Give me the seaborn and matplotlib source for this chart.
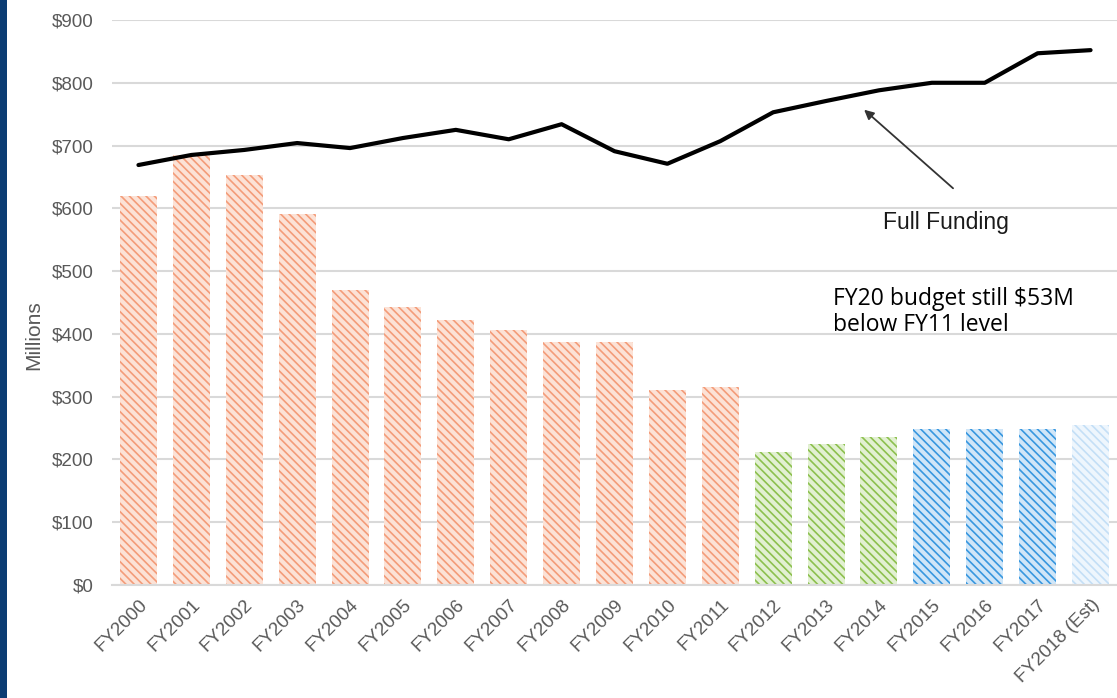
import numpy as np
import pandas as pd
import matplotlib
matplotlib.use("Agg")
import matplotlib.pyplot as plt
import matplotlib.patches as mpatches
import seaborn as sns

years = ["FY2000", "FY2001", "FY2002", "FY2003", "FY2004", "FY2005", "FY2006",
         "FY2007", "FY2008", "FY2009", "FY2010", "FY2011", "FY2012", "FY2013",
         "FY2014", "FY2015", "FY2016", "FY2017", "FY2018 (Est)"]
actual = [620, 685, 653, 591, 470, 443, 422, 406, 387, 387, 311, 315,
          212, 225, 236, 248, 248, 248, 255]
full_funding = [669, 685, 693, 704, 696, 712, 725, 710, 734, 691, 671, 707,
                753, 771, 788, 800, 800, 847, 852]
groups = ["a"] * 12 + ["b"] * 3 + ["c"] * 3 + ["d"]
ytick_vals = [0, 100, 200, 300, 400, 500, 600, 700, 800, 900]
ytick_labels = ["$0", "$100", "$200", "$300", "$400", "$500", "$600", "$700", "$800", "$900"]

hatch_col = {"a": "#F39C79", "b": "#8CC04E", "c": "#3897DF", "d": "#C4DFF6"}
face_col = {"a": "#FCE2D6", "b": "#E2F0D2", "c": "#D0E6F8", "d": "#EEF6FD"}

sns.set_style("white")
plt.rcParams["font.family"] = ["Liberation Sans", "DejaVu Sans"]
plt.rcParams["hatch.linewidth"] = 1.2

fig = plt.figure(figsize=(11.17, 6.98), dpi=100)
ax = fig.add_axes([112 / 1117, 1 - 585 / 698, (1117 - 112) / 1117, (585 - 20) / 698])

df = pd.DataFrame({"year": years, "actual": actual, "group": groups})
sns.barplot(data=df, x="year", y="actual", ax=ax, width=0.7,
            color="#FCDDCF", saturation=1)
for patch, g in zip(ax.patches, groups):
    patch.set_facecolor(face_col[g])
    patch.set_edgecolor(hatch_col[g])
    patch.set_hatch("\\" * 4)
    patch.set_linewidth(0)

sns.lineplot(x=np.arange(len(years)), y=full_funding, ax=ax, color="black",
             linewidth=3, zorder=5)

ax.set_xlim(-0.5, len(years) - 0.5)
ax.set_ylim(0, 900)
ax.set_yticks(ytick_vals)
ax.set_yticklabels(ytick_labels)
ax.yaxis.grid(True, color="#D9D9D9", linewidth=1.5)
ax.set_axisbelow(True)
for s in ["top", "right", "left"]:
    ax.spines[s].set_visible(False)
ax.spines["bottom"].set_color("#D9D9D9")
ax.spines["bottom"].set_linewidth(1.5)
ax.tick_params(axis="both", length=0, labelsize=13.5, labelcolor="#595959")
ax.tick_params(axis="y", pad=13)
ax.set_xticks(np.arange(len(years)))
ax.set_xticklabels(years, rotation=45, ha="right", rotation_mode="anchor")
ax.tick_params(axis="x", pad=8)
ax.set_xlabel("")
ax.set_ylabel("Millions", fontsize=15, color="#595959")
ax.yaxis.set_label_coords(-0.068, 0.4425)

ax.annotate("", xy=(13.68, 760), xytext=(15.44, 629),
            arrowprops=dict(arrowstyle="-|>", color="#333333", lw=1.3,
                            mutation_scale=14))
ax.text(15.27, 578, "Full Funding", fontsize=16.5, color="#1a1a1a",
        ha="center", va="center")
ax.text(13.13, 435, "FY20 budget still $53M\nbelow FY11 level",
        fontsize=16.5, color="black", ha="left", va="center",
        family=["Open Sans", "DejaVu Sans"], linespacing=1.15)

fig.patches.append(mpatches.Rectangle((0, 0), 7 / 1117, 1, transform=fig.transFigure,
                                      facecolor="#0B3C73", edgecolor="none"))

fig.savefig("out.png", dpi=100)
